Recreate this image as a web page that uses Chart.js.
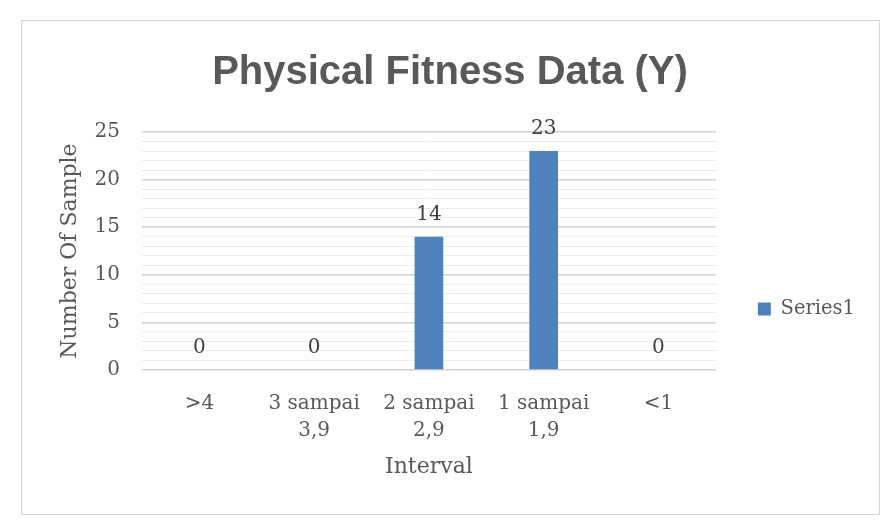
<!DOCTYPE html>
<html>
<head>
<meta charset="utf-8">
<script src="https://cdn.jsdelivr.net/npm/chart.js@4"></script>
<style>
  html, body { margin: 0; padding: 0; background: #fff; }
  #wrap { position: relative; width: 890px; height: 529px; }
  #frame { position: absolute; left: 21px; top: 20px; width: 857px; height: 493px; border: 1px solid #d4d4d4; pointer-events: none; }
  #chart { position: absolute; left: 0; top: 0; }
</style>
</head>
<body>
<div id="wrap">
  <canvas id="chart" width="890" height="529"></canvas>
  <div id="frame"></div>
</div>
<script>
const categories = [[">4"], ["3 sampai", "3,9"], ["2 sampai", "2,9"], ["1 sampai", "1,9"], ["<1"]];
const samples = [0, 0, 14, 23, 0];
const seriesName = "Series1";
const yMin = 0;
const yMax = 25;
const majorStep = 5;

const gray = "#595959";
const serif = "'DejaVu Serif', serif";

// Etiquetas de valor encima de cada barra.
const barLabels = {
  id: "barLabels",
  afterDatasetsDraw(chart) {
    const { ctx } = chart;
    ctx.save();
    ctx.font = `20px ${serif}`;
    ctx.fillStyle = "#404040";
    ctx.textAlign = "center";
    ctx.textBaseline = "alphabetic";
    chart.getDatasetMeta(0).data.forEach((bar, i) => {
      ctx.fillText(String(samples[i]), bar.x, bar.y - 17);
    });
    ctx.restore();
  },
};

// La leyenda de Excel queda más abajo que el centro.
const legendNudge = {
  id: "legendNudge",
  afterLayout(chart) {
    const lg = chart.legend;
    const dy = 309 - (lg.top + lg.bottom) / 2;
    lg.top += dy;
    lg.bottom += dy;
  },
};

new Chart(document.getElementById("chart"), {
  type: "bar",
  data: {
    labels: categories,
    datasets: [
      {
        label: seriesName,
        data: samples,
        backgroundColor: "#4f81bd",
        categoryPercentage: 1,
        barPercentage: 0.25,
      },
    ],
  },
  options: {
    responsive: false,
    animation: false,
    layout: { padding: { left: 35, right: 25, top: 0, bottom: 16 } },
    plugins: {
      title: {
        display: true,
        text: "Physical Fitness Data (Y)",
        color: gray,
        font: { family: "'Liberation Sans', Arial, sans-serif", size: 40, weight: "bold", lineHeight: 1.2 },
        padding: { top: 49, bottom: 35 },
      },
      legend: {
        position: "right",
        labels: {
          boxWidth: 13,
          boxHeight: 13,
          padding: 42,
          color: gray,
          font: { family: serif, size: 19.5 },
        },
      },
      tooltip: { enabled: false },
    },
    scales: {
      x: {
        afterFit: (s) => { s.height = 143; },
        grid: { display: false, drawTicks: false },
        border: { display: false },
        ticks: {
          color: gray,
          font: { family: serif, size: 20, lineHeight: 1.35 },
          padding: 20,
          maxRotation: 0,
          autoSkip: false,
        },
        title: {
          display: true,
          text: "Interval",
          color: gray,
          font: { family: serif, size: 22, lineHeight: 1.2 },
          padding: { top: 12, bottom: 33 },
        },
      },
      y: {
        min: yMin,
        max: yMax,
        afterFit: (s) => { s.width = 107; },
        grid: {
          drawTicks: false,
          color: (c) => (c.tick.value % majorStep === 0 ? "#d2d2d2" : "#ededed"),
          lineWidth: (c) => (c.tick.value % majorStep === 0 ? 1.5 : 1),
        },
        border: { display: false },
        ticks: {
          stepSize: 1,
          autoSkip: false,
          padding: 22,
          color: gray,
          font: { family: serif, size: 20 },
          callback: (v) => (v % majorStep === 0 ? v : ""),
        },
        title: {
          display: true,
          text: "Number Of Sample",
          color: gray,
          font: { family: serif, size: 22, lineHeight: 1.2 },
          padding: { top: 22.5, bottom: 10.4 },
        },
      },
    },
  },
  plugins: [barLabels, legendNudge],
});
</script>
</body>
</html>
